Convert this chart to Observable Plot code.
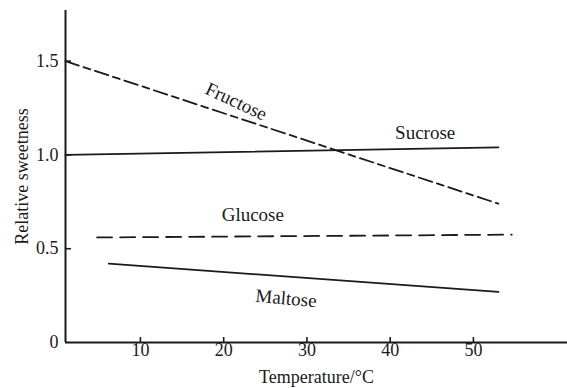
<!DOCTYPE html>
<html><head><meta charset="utf-8">
<script src="https://cdn.jsdelivr.net/npm/d3@7"></script>
<script src="https://cdn.jsdelivr.net/npm/@observablehq/plot@0.6"></script>
<style>html,body{margin:0;padding:0;background:#fff} svg{display:block}</style>
</head><body><div id="chart"></div>
<script>
// Data
const sugars = ["Fructose", "Sucrose", "Glucose", "Maltose"];
const startTemp = [1, 1, 4.8, 6.2];
const endTemp = [53, 53, 54.6, 53];
const startSweet = [1.5, 1.0, 0.56, 0.42];
const endSweet = [0.74, 1.04, 0.575, 0.27];
const xTicks = [10, 20, 30, 40, 50];
const yTicks = [0, 0.5, 1.0, 1.5];
const labelTemp = [21.5, 44.2, 23.5, 27.5];
const labelSweet = [1.285, 1.12, 0.68, 0.235];

const rows = sugars.flatMap((s, i) => [
  {sugar: s, t: startTemp[i], v: startSweet[i]},
  {sugar: s, t: endTemp[i], v: endSweet[i]}
]);
const labels = sugars.map((s, i) => ({sugar: s, t: labelTemp[i], v: labelSweet[i]}));
const dash = {Fructose: "14,5,7,5", Sucrose: null, Glucose: "15,8", Maltose: null};
const rot = {Fructose: 25, Sucrose: 0, Glucose: 0, Maltose: 5};
const ink = "#1a1a1a";
const W = 567, H = 388, mL = 65, mR = 0, mT = 10, mB = 46;

const chart = Plot.plot({
  width: W, height: H,
  marginLeft: mL, marginRight: mR, marginTop: mT, marginBottom: mB,
  style: {fontFamily: "'Liberation Serif', 'Times New Roman', serif", fontSize: "18px", color: ink, background: "#fff"},
  x: {domain: [1, 61.3]},
  y: {domain: [0, 1.77]},
  marks: [
    Plot.axisX(xTicks, {tickSize: 0, tickPadding: 1, fontSize: 18, label: "Temperature/°C", labelAnchor: "center", labelOffset: 40, labelArrow: "none"}),
    Plot.axisY(yTicks, {tickSize: 0, tickPadding: 7, fontSize: 18, tickFormat: d => d === 0 ? "0" : d.toFixed(1), label: "Relative sweetness", labelAnchor: "center", labelOffset: 50, labelArrow: "none"}),
    Plot.tickX(xTicks, {x: d => d, stroke: ink, strokeWidth: 1.6, insetTop: H - mT - mB - 5}),
    Plot.tickY(yTicks.filter(d => d > 0), {y: d => d, stroke: ink, strokeWidth: 1.6, insetRight: W - mL - mR - 6}),
    Plot.ruleY([0], {stroke: ink, strokeWidth: 2}),
    Plot.ruleX([1], {stroke: ink, strokeWidth: 2}),
    ...sugars.map(s => Plot.line(rows.filter(d => d.sugar === s), {
      x: "t", y: "v", stroke: ink, strokeWidth: 1.8, strokeDasharray: dash[s]
    })),
    ...sugars.map(s => Plot.text(labels.filter(d => d.sugar === s), {
      x: "t", y: "v", text: "sugar", rotate: rot[s], fontSize: 19, fill: ink
    }))
  ]
});
document.getElementById("chart").appendChild(chart);
</script>
</body></html>
